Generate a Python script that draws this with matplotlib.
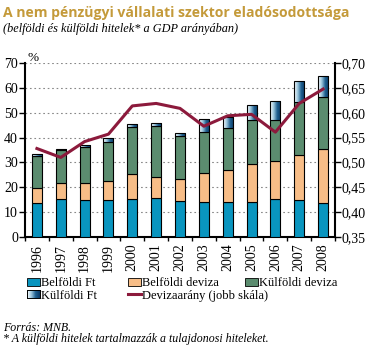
import matplotlib
matplotlib.use("Agg")
import matplotlib.pyplot as plt
import numpy as np
from matplotlib.patches import Rectangle
from matplotlib.lines import Line2D
from matplotlib.colors import LinearSegmentedColormap

years = ["1996", "1997", "1998", "1999", "2000", "2001", "2002",
         "2003", "2004", "2005", "2006", "2007", "2008"]
belfoldi_ft = [13.5, 15.1, 14.7, 14.7, 15.1, 15.5, 14.3, 14.2, 13.9, 14.2, 15.1, 14.7, 13.5]
belfoldi_deviza = [6.1, 6.5, 6.9, 7.8, 10.2, 8.7, 8.9, 11.5, 13.0, 15.1, 15.4, 18.2, 22.1]
kulfoldi_deviza = [13.1, 13.4, 14.7, 15.8, 19.1, 20.6, 17.5, 16.7, 16.8, 17.8, 16.6, 21.5, 20.8]
kulfoldi_ft = [0.8, 0.4, 0.8, 1.7, 1.2, 1.2, 1.2, 5.1, 4.8, 6.1, 7.7, 8.5, 8.5]
devizaarany = [0.528, 0.510, 0.542, 0.557, 0.614, 0.619, 0.609,
               0.573, 0.594, 0.597, 0.561, 0.619, 0.648]

left_ticks = [0, 10, 20, 30, 40, 50, 60, 70]
right_ticks = [0.35, 0.40, 0.45, 0.50, 0.55, 0.60, 0.65, 0.70]
legend_labels = ["Belföldi Ft", "Belföldi deviza", "Külföldi deviza",
                 "Külföldi Ft", "Devizaarány (jobb skála)"]

c_blue = "#0995bf"
c_orange = "#f7bd87"
c_green = "#5b8c6f"
c_line = "#8c1a3c"
c_title = "#c49a3a"

serif = ["Liberation Serif", "DejaVu Serif"]

W, H = 371, 357
fig = plt.figure(figsize=(W / 100, H / 100), dpi=100)
ax = fig.add_axes([25 / W, 1 - 236.7 / H, 310 / W, (236.7 - 63.3) / H])

x = np.arange(len(years))
bw = 0.42
b1 = np.array(belfoldi_ft)
b2 = np.array(belfoldi_deviza)
b3 = np.array(kulfoldi_deviza)
b4 = np.array(kulfoldi_ft)

ax.bar(x, b1, bw, color=c_blue, edgecolor="black", linewidth=0.8, zorder=3)
ax.bar(x, b2, bw, bottom=b1, color=c_orange, edgecolor="black", linewidth=0.8, zorder=3)
ax.bar(x, b3, bw, bottom=b1 + b2, color=c_green, edgecolor="black", linewidth=0.8, zorder=3)

grad_cmap = LinearSegmentedColormap.from_list("g", ["#ffffff", "#9cc6dd", "#1f5f8f", "#0b3a66"])
grad = np.linspace(0, 1, 64).reshape(1, -1)
bot4 = b1 + b2 + b3
for xi, b, h in zip(x, bot4, b4):
    rect = Rectangle((xi - bw / 2, b), bw, h, facecolor="none", edgecolor="black",
                     linewidth=0.8, zorder=4)
    ax.add_patch(rect)
    im = ax.imshow(grad, cmap=grad_cmap, aspect="auto",
                   extent=(xi - bw / 2, xi + bw / 2, b, b + h), zorder=3.5)
    im.set_clip_path(rect)

ax.set_xlim(-0.5, len(years) - 0.5)
ax.set_ylim(0, 70)
ax.set_yticks(left_ticks)
ax.set_yticklabels([str(t) for t in left_ticks], fontfamily=serif, fontsize=10)
ax.set_xticks(x)
ax.set_xticklabels(years, rotation=90, fontfamily=serif, fontsize=10)
ax.tick_params(axis="x", length=0, pad=5)
ax.set_xticks(np.arange(-0.5, len(years), 1), minor=True)
ax.tick_params(axis="x", which="minor", length=3, width=1, direction="out")
ax.tick_params(axis="y", length=4, width=1, direction="out", pad=1)
ax.grid(axis="y", linestyle=(0, (1.5, 2.5)), color="#888888", linewidth=0.8, zorder=0)
ax.set_axisbelow(True)
ax.spines["top"].set_visible(False)
ax.spines["left"].set_linewidth(1.5)
ax.spines["bottom"].set_linewidth(1.5)
ax.spines["right"].set_visible(False)

ax2 = ax.twinx()
ax2.plot(x, devizaarany, color=c_line, linewidth=2.2, zorder=5)
ax2.set_ylim(0.35, 0.70)
ax2.set_yticks(right_ticks)
ax2.set_yticklabels([f"{t:.2f}".replace(".", ",") for t in right_ticks],
                    fontfamily=serif, fontsize=10)
ax2.tick_params(axis="y", length=4, width=1, direction="out", pad=1)
ax2.spines["top"].set_visible(False)
ax2.spines["left"].set_visible(False)
ax2.spines["bottom"].set_visible(False)
ax2.spines["right"].set_linewidth(1.5)

fig.text(27 / W, 1 - 61 / H, "%", fontfamily=serif, fontsize=9.5, ha="left", va="baseline")

fig.text(3 / W, 1 - 17 / H, "A nem pénzügyi vállalati szektor eladósodottsága",
         fontfamily=["Open Sans", "DejaVu Sans"], fontweight="bold", fontsize=10.1,
         color=c_title, ha="left", va="baseline")
fig.text(3 / W, 1 - 32 / H, "(belföldi és külföldi hitelek* a GDP arányában)",
         fontfamily=serif, fontstyle="italic", fontsize=8.8, color="black",
         ha="left", va="baseline")


def fx(px):
    return px / W


def fy(py):
    return 1 - py / H


leg_items = [
    (legend_labels[0], "patch", c_blue, 27, 281.7),
    (legend_labels[1], "patch", c_orange, 128, 281.7),
    (legend_labels[2], "patch", c_green, 245, 281.7),
    (legend_labels[3], "grad", None, 27, 294.3),
    (legend_labels[4], "line", c_line, 128, 294.3),
]
for lab, kind, col, px, py in leg_items:
    if kind == "line":
        fig.add_artist(Line2D([fx(px), fx(px + 13)], [fy(py), fy(py)], color=col,
                              linewidth=2.2, transform=fig.transFigure))
    else:
        r = Rectangle((fx(px), fy(py + 4)), 13 / W, 8 / H, transform=fig.transFigure,
                      facecolor=col if col else "none", edgecolor="black", linewidth=0.6)
        fig.add_artist(r)
        if kind == "grad":
            gax = fig.add_axes([fx(px), fy(py + 4), 13 / W, 8 / H])
            gax.imshow(grad, cmap=grad_cmap, aspect="auto")
            gax.set_xticks([])
            gax.set_yticks([])
            for s in gax.spines.values():
                s.set_linewidth(0.6)
    fig.text(fx(px + 14), fy(py), lab, fontfamily=serif, fontsize=9, ha="left",
             va="center_baseline")

fig.text(3 / W, 1 - 331 / H, "Forrás: MNB.", fontfamily=serif, fontstyle="italic",
         fontsize=8.6, ha="left", va="baseline")
fig.text(3 / W, 1 - 342 / H, "* A külföldi hitelek tartalmazzák a tulajdonosi hiteleket.",
         fontfamily=serif, fontstyle="italic", fontsize=8.6, ha="left", va="baseline")

fig.savefig("out.png", dpi=100)
